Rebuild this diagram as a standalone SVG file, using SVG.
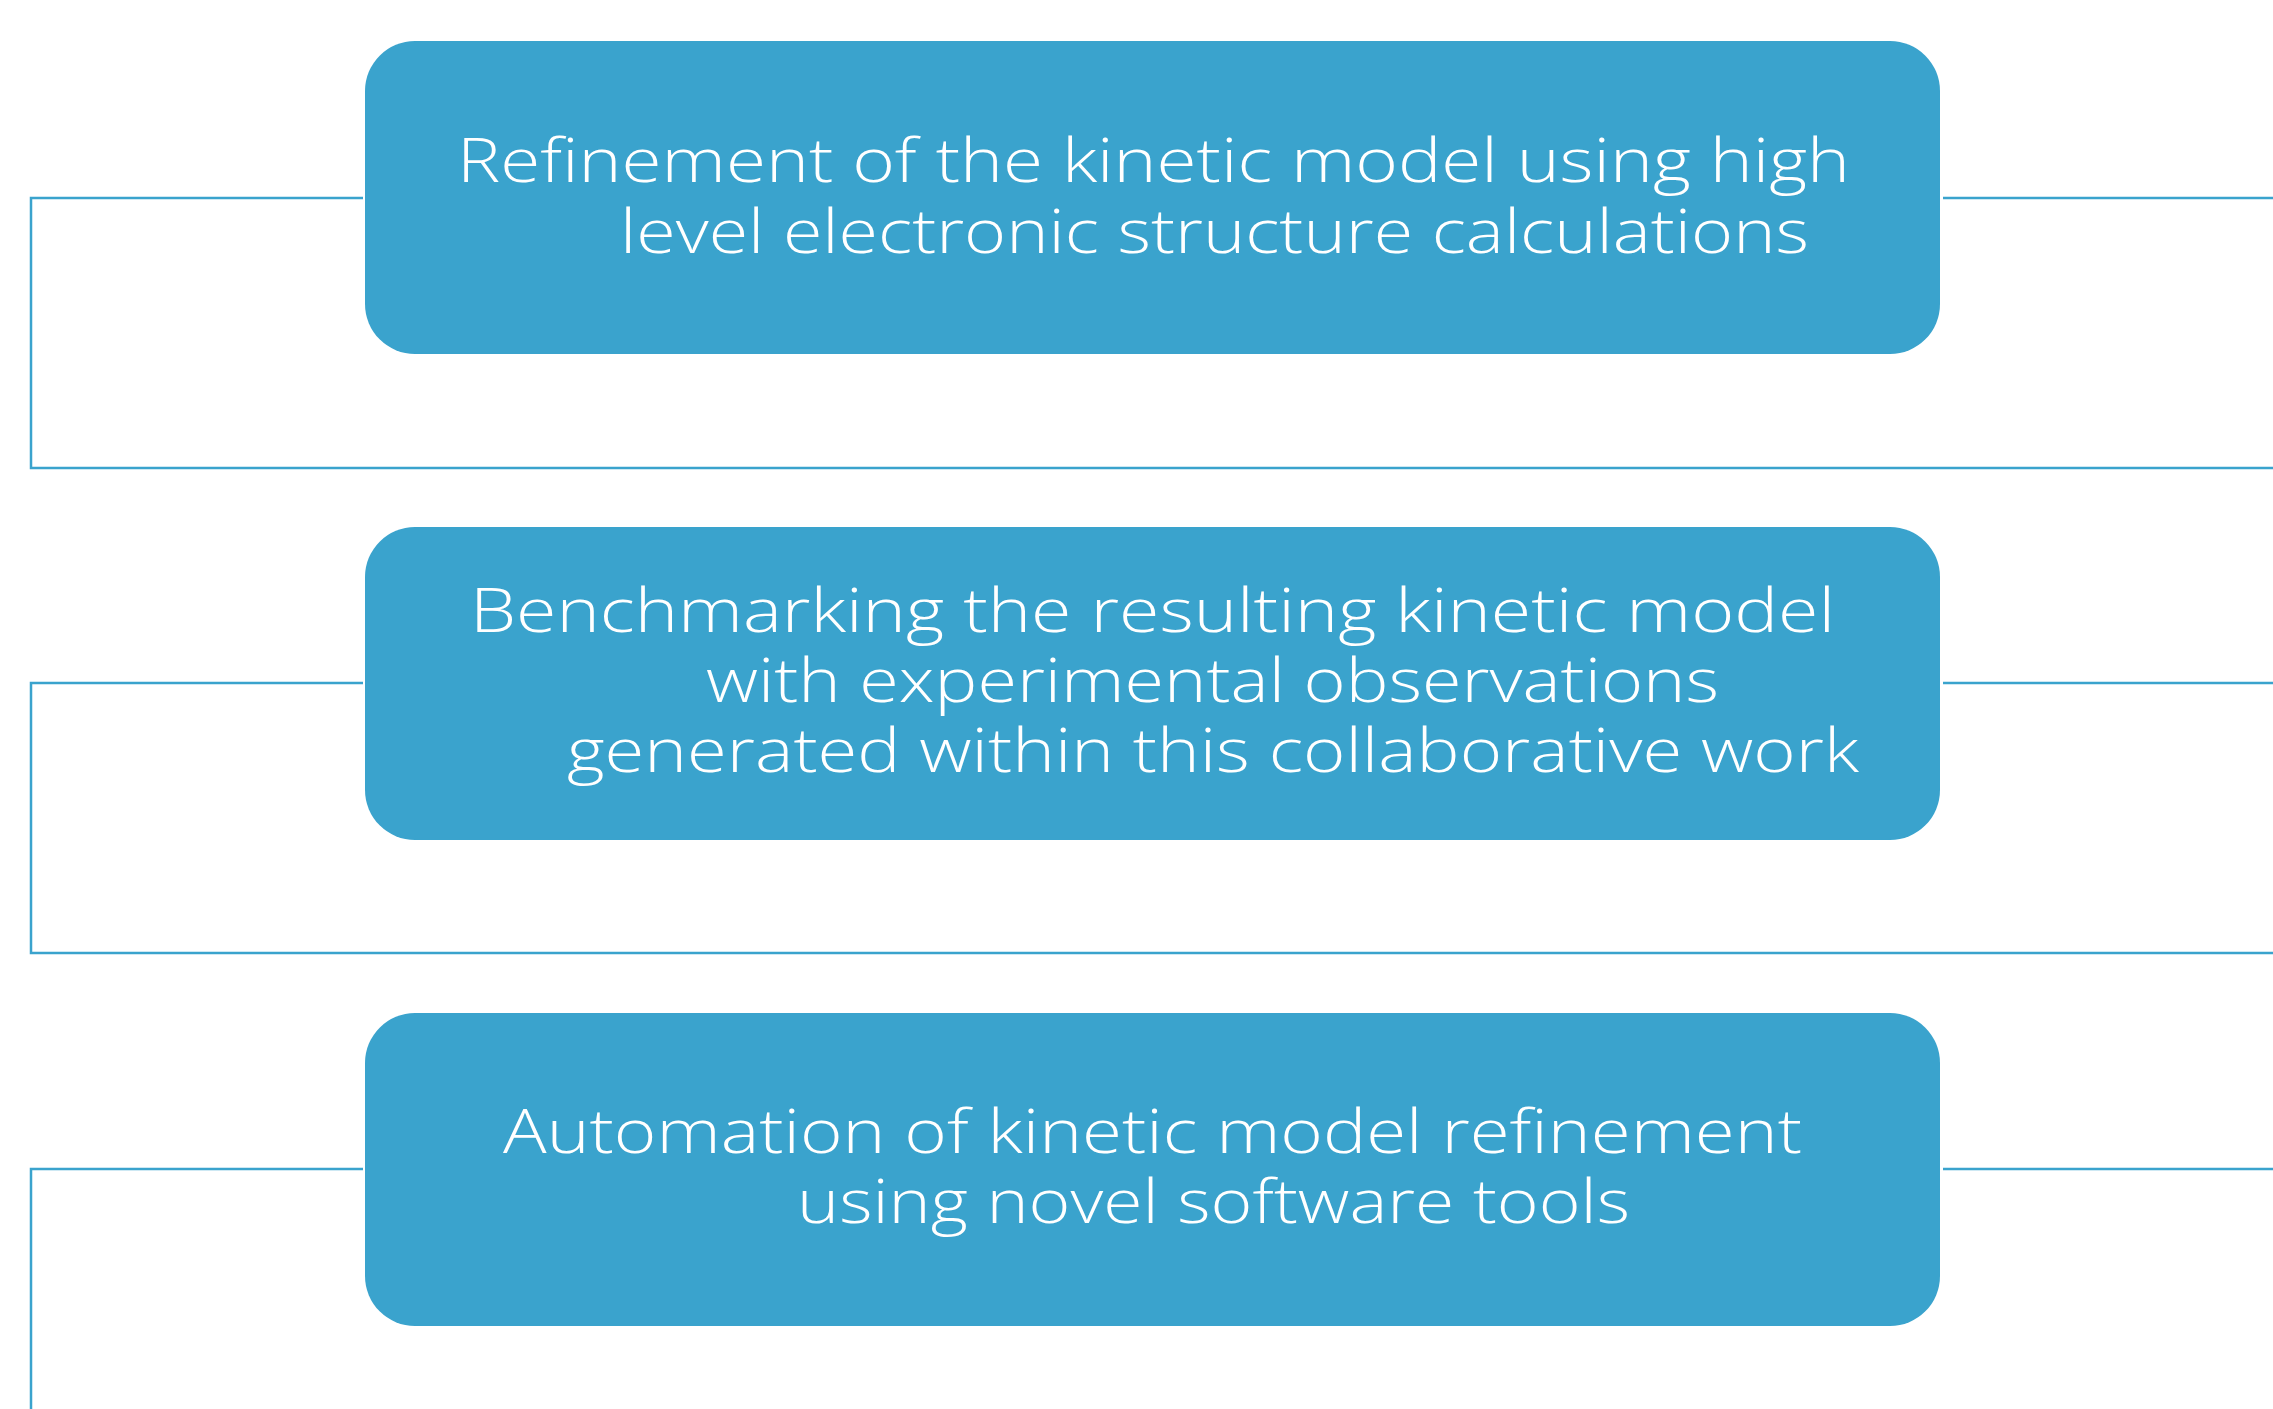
<svg xmlns="http://www.w3.org/2000/svg" width="2273" height="1409" viewBox="0 0 2273 1409">
<style>
.box{fill:#3AA3CD;}
.lbl{fill:#ffffff;font-family:"Open Sans","Noto Sans","Liberation Sans",sans-serif;font-size:60px;font-weight:300;}
.con{fill:none;stroke:#3AA3CD;stroke-width:2.5;}
</style>
<rect width="2273" height="1409" fill="#ffffff"/>
<g id="connectors">
<path class="con" d="M363,198 H31 V468 H2273"/>
<path class="con" d="M1943,198 H2273"/>
<path class="con" d="M363,683 H31 V953 H2273"/>
<path class="con" d="M1943,683 H2273"/>
<path class="con" d="M363,1169 H31 V1409"/>
<path class="con" d="M1943,1169 H2273"/>
</g>
<g id="node1">
<rect class="box" x="365" y="41" width="1575" height="313" rx="50" ry="50"/>
<text class="lbl" x="457" y="182" textLength="1393" lengthAdjust="spacingAndGlyphs">Refinement of the kinetic model using high</text>
<text class="lbl" x="620" y="253" textLength="1189" lengthAdjust="spacingAndGlyphs">level electronic structure calculations</text>
</g>
<g id="node2">
<rect class="box" x="365" y="527" width="1575" height="313" rx="50" ry="50"/>
<text class="lbl" x="470" y="632" textLength="1365" lengthAdjust="spacingAndGlyphs">Benchmarking the resulting kinetic model</text>
<text class="lbl" x="706" y="702" textLength="1013" lengthAdjust="spacingAndGlyphs">with experimental observations</text>
<text class="lbl" x="567" y="772" textLength="1292" lengthAdjust="spacingAndGlyphs">generated within this collaborative work</text>
</g>
<g id="node3">
<rect class="box" x="365" y="1013" width="1575" height="313" rx="50" ry="50"/>
<text class="lbl" x="503" y="1153" textLength="1299" lengthAdjust="spacingAndGlyphs">Automation of kinetic model refinement</text>
<text class="lbl" x="797" y="1223" textLength="833" lengthAdjust="spacingAndGlyphs">using novel software tools</text>
</g>
</svg>
